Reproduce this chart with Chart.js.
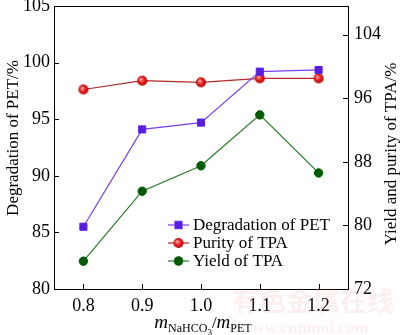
<!DOCTYPE html>
<html>
<head>
<script src="https://cdn.jsdelivr.net/npm/chart.js@4/dist/chart.umd.min.js"></script>
<style>body{margin:0;background:#fff}</style>
</head>
<body>
<canvas id="canvas" width="400" height="335"></canvas>
<script>
const ratios = [0.8, 0.9, 1.0, 1.1, 1.2];
const degradation = [85.5, 94.1, 94.7, 99.2, 99.35];
const purity = [97.1, 98.2, 98.0, 98.5, 98.5];
const yieldTPA = [75.5, 84.3, 87.5, 93.9, 86.6];
const xTicks = [0.8, 0.9, 1.0, 1.1, 1.2];
const leftTicks = [80, 85, 90, 95, 100, 105];
const rightTicks = [72, 80, 88, 96, 104];
const names = ['Degradation of PET', 'Purity of TPA', 'Yield of TPA'];

const FONT = '"Liberation Serif", "Times New Roman", serif';

// shaded red ball used for the purity markers
function redBall(r) {
  const c = document.createElement('canvas');
  c.width = c.height = r * 2 + 2;
  const g = c.getContext('2d');
  const grad = g.createRadialGradient(r + 1 - r * 0.3, r + 1 - r * 0.3, 0.5, r + 1, r + 1, r);
  grad.addColorStop(0, '#ffb0b0');
  grad.addColorStop(0.45, '#f02828');
  grad.addColorStop(1, '#b00000');
  g.fillStyle = grad;
  g.beginPath();
  g.arc(r + 1, r + 1, r, 0, Math.PI * 2);
  g.fill();
  return c;
}
const ball = redBall(5);

const styles = [
  { line: '#7a3ee8', pointStyle: 'rect', radius: 5, fill: '#5a1ee0', border: '#5a1ee0' },
  { line: '#b02828', pointStyle: ball, radius: 5, fill: '#e82020', border: '#b00000' },
  { line: '#2a7a2a', pointStyle: 'circle', radius: 4.2, fill: '#005a00', border: '#005a00' }
];

function series(vals) {
  return ratios.map((x, i) => ({ x: x, y: vals[i] }));
}

// no automatic padding for half tick labels: the frame is fixed
function noPad(s) {
  s.paddingTop = 0; s.paddingBottom = 0; s.paddingLeft = 0; s.paddingRight = 0;
}

const decor = {
  id: 'decor',
  afterDraw(chart) {
    const ctx = chart.ctx;
    const a = chart.chartArea;
    const sx = chart.scales.x, sl = chart.scales.y, sr = chart.scales.y1;
    ctx.save();
    // frame
    ctx.strokeStyle = '#000';
    ctx.lineWidth = 1;
    ctx.strokeRect(Math.round(a.left) + 0.5, Math.round(a.top) + 0.5, Math.round(a.right - a.left), Math.round(a.bottom - a.top));
    // inward ticks
    ctx.beginPath();
    xTicks.forEach(v => {
      const p = Math.round(sx.getPixelForValue(v)) + 0.5;
      ctx.moveTo(p, a.bottom); ctx.lineTo(p, a.bottom - 5);
    });
    leftTicks.forEach(v => {
      const p = Math.round(sl.getPixelForValue(v)) + 0.5;
      ctx.moveTo(a.left, p); ctx.lineTo(a.left + 5, p);
    });
    rightTicks.forEach(v => {
      const p = Math.round(sr.getPixelForValue(v)) + 0.5;
      ctx.moveTo(a.right, p); ctx.lineTo(a.right - 5, p);
    });
    ctx.stroke();

    // legend
    ctx.font = '17px ' + FONT;
    ctx.textBaseline = 'middle';
    ctx.textAlign = 'left';
    names.forEach((n, i) => {
      const y = 225 + i * 18;
      const s = styles[i];
      ctx.strokeStyle = s.line;
      ctx.lineWidth = 1.2;
      ctx.beginPath();
      ctx.moveTo(168, y); ctx.lineTo(189, y);
      ctx.stroke();
      Chart.helpers.drawPoint(ctx, {
        pointStyle: s.pointStyle, radius: s.radius, rotation: 0, borderWidth: 1
      }, 178.5, y);
      if (typeof s.pointStyle === 'string') {
        ctx.fillStyle = s.fill;
        ctx.fill();
      }
      ctx.fillStyle = '#000';
      ctx.fillText(n, 193, y + 1);
    });

    // axis titles
    ctx.fillStyle = '#000';
    ctx.textAlign = 'center';
    ctx.font = '17px ' + FONT;
    ctx.save();
    ctx.translate(14, 138);
    ctx.rotate(-Math.PI / 2);
    ctx.fillText('Degradation of PET/%', 0, 0);
    ctx.restore();
    ctx.save();
    ctx.translate(392, 154);
    ctx.rotate(-Math.PI / 2);
    ctx.fillText('Yield and purity of TPA/%', 0, 0);
    ctx.restore();

    // x title with subscripts
    const parts = [
      ['m', 'italic 19px ' + FONT, 0],
      ['NaHCO', '12px ' + FONT, 4],
      ['3', '9px ' + FONT, 7],
      ['/', '17px ' + FONT, 0],
      ['m', 'italic 19px ' + FONT, 0],
      ['PET', '12px ' + FONT, 4]
    ];
    ctx.textAlign = 'left';
    ctx.textBaseline = 'alphabetic';
    let w = 0;
    parts.forEach(p => { ctx.font = p[1]; w += ctx.measureText(p[0]).width; });
    let x = (a.left + a.right) / 2 - w / 2 + 2;
    parts.forEach(p => {
      ctx.font = p[1];
      ctx.fillText(p[0], x, 328 + p[2]);
      x += ctx.measureText(p[0]).width;
    });

    // watermark
    ctx.fillStyle = 'rgba(225,140,140,0.14)';
    ctx.font = 'bold 27px "Noto Sans CJK SC", sans-serif';
    ctx.fillText('有色金属在线', 232, 311);
    ctx.font = 'bold 17px ' + FONT;
    ctx.fillText('www.cnnmol.com', 240, 333);
    ctx.restore();
  }
};

new Chart(document.getElementById('canvas').getContext('2d'), {
  type: 'line',
  data: {
    datasets: [
      { data: series(degradation), yAxisID: 'y' },
      { data: series(purity), yAxisID: 'y1' },
      { data: series(yieldTPA), yAxisID: 'y1' }
    ].map((d, i) => Object.assign(d, {
      label: names[i],
      borderColor: styles[i].line,
      borderWidth: 1.2,
      pointStyle: styles[i].pointStyle,
      pointRadius: styles[i].radius,
      pointBackgroundColor: styles[i].fill,
      pointBorderColor: styles[i].border,
      pointBorderWidth: 1,
      tension: 0
    }))
  },
  options: {
    responsive: false,
    animation: false,
    layout: { padding: { top: 4, left: 0, right: 0, bottom: 0 } },
    plugins: { legend: { display: false }, tooltip: { enabled: false } },
    scales: {
      x: {
        type: 'linear', min: 0.75, max: 1.25,
        grid: { display: false, drawTicks: false },
        border: { display: false },
        afterBuildTicks: s => { s.ticks = xTicks.map(v => ({ value: v })); },
        afterFit: s => { s.height = 46; noPad(s); },
        ticks: {
          padding: 6, color: '#000', font: { family: FONT, size: 18 },
          callback: v => v.toFixed(1), maxRotation: 0
        }
      },
      y: {
        position: 'left', min: 80, max: 105,
        grid: { display: false, drawTicks: false },
        border: { display: false },
        afterBuildTicks: s => { s.ticks = leftTicks.map(v => ({ value: v })); },
        afterFit: s => { s.width = 54; noPad(s); },
        ticks: { padding: 4, color: '#000', font: { family: FONT, size: 18 } }
      },
      y1: {
        position: 'right', min: 72, max: 107.6,
        grid: { display: false, drawTicks: false },
        border: { display: false },
        afterBuildTicks: s => { s.ticks = rightTicks.map(v => ({ value: v })); },
        afterFit: s => { s.width = 52; noPad(s); },
        ticks: { padding: 6, color: '#000', font: { family: FONT, size: 18 } }
      }
    }
  },
  plugins: [decor]
});
</script>
</body>
</html>
